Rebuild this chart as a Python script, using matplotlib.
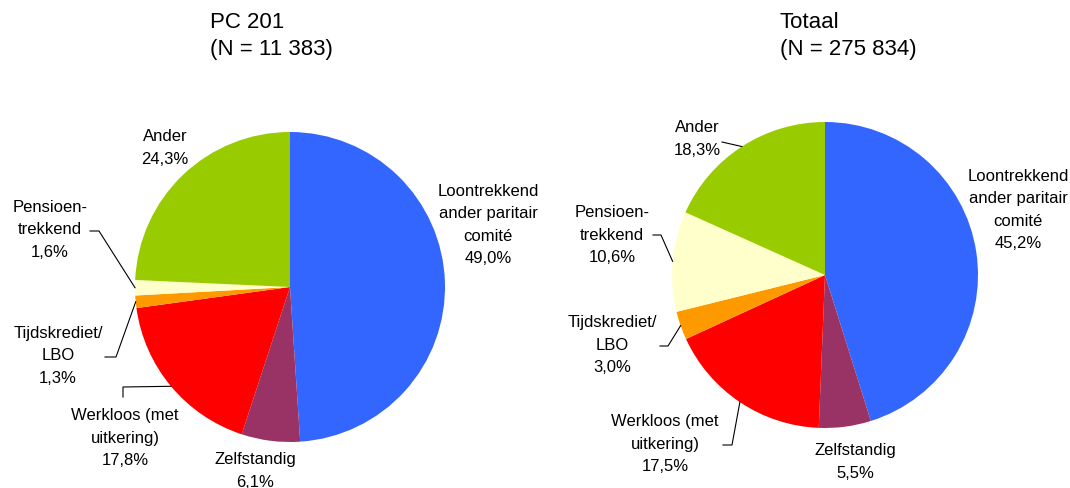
#! /usr/bin/env python3

import numpy as np
import matplotlib.pyplot as plt

plt.rcParams['font.family'] = ['Liberation Sans', 'DejaVu Sans']

W, H = 1070, 488

categories = ["Loontrekkend\nander paritair\ncomité", "Zelfstandig",
              "Werkloos (met\nuitkering)", "Tijdskrediet/\nLBO",
              "Pensioen-\ntrekkend", "Ander"]
colors = ["#3366FF", "#993366", "#FF0000", "#FF9900", "#FFFFCC", "#99CC00"]
pc201_values = [49.0, 6.1, 17.8, 1.3, 1.6, 24.3]
totaal_values = [45.2, 5.5, 17.5, 3.0, 10.6, 18.3]
titles = ["PC 201\n(N = 11 383)", "Totaal\n(N = 275 834)"]

# layout in pixel coords (y down)
layouts = [
    dict(center=(290, 287), r=155, title=(210, 36),
         labels=[(488, 225), (255, 471), (125, 438), (58, 356), (50, 230), (165, 148)],
         leaders=[None, None, [(123, 397), (123, 387)], [(105, 357), (116, 357)],
                  [(90, 231), (99, 231)], None]),
    dict(center=(825, 275), r=153, title=(780, 36),
         labels=[(1018, 210), (855, 462), (665, 444), (612, 345), (612, 235), (697, 139)],
         leaders=[None, None, [(723, 445), (732, 445)], [(660, 346), (668, 346)],
                  [(653, 235), (661, 235)], [(722, 142)]]),
]


def Y(y):
    return H - y


def fmt(v):
    return f"{v:.1f}%".replace('.', ',')


fig = plt.figure(figsize=(W / 100, H / 100), dpi=100)
ax = fig.add_axes([0, 0, 1, 1])
ax.set_xlim(0, W)
ax.set_ylim(0, H)
ax.set_aspect('equal')
ax.axis('off')

for values, title, lay in zip([pc201_values, totaal_values], titles, layouts):
    cx, cy = lay['center']
    wedges, _ = ax.pie(values, colors=colors, startangle=90, counterclock=False,
                       center=(cx, Y(cy)), radius=lay['r'],
                       wedgeprops=dict(linewidth=0))
    ax.set_xlim(0, W)
    ax.set_ylim(0, H)

    tx, ty = lay['title']
    ax.text(tx, Y(ty), title, ha='left', va='center', fontsize=16,
            linespacing=1.4)

    for w, cat, v, pos, lead in zip(wedges, categories, values,
                                    lay['labels'], lay['leaders']):
        ax.text(pos[0], Y(pos[1]), f"{cat}\n{fmt(v)}", ha='center', va='center',
                fontsize=12, linespacing=1.6)
        if lead is None:
            continue
        mid = np.deg2rad((w.theta1 + w.theta2) / 2)
        ex = cx + lay['r'] * np.cos(mid)
        ey = Y(cy) + lay['r'] * np.sin(mid)
        xs = [p[0] for p in lead] + [ex]
        ys = [Y(p[1]) for p in lead] + [ey]
        ax.plot(xs, ys, color='black', linewidth=0.8)

fig.savefig('out.png', dpi=100)
